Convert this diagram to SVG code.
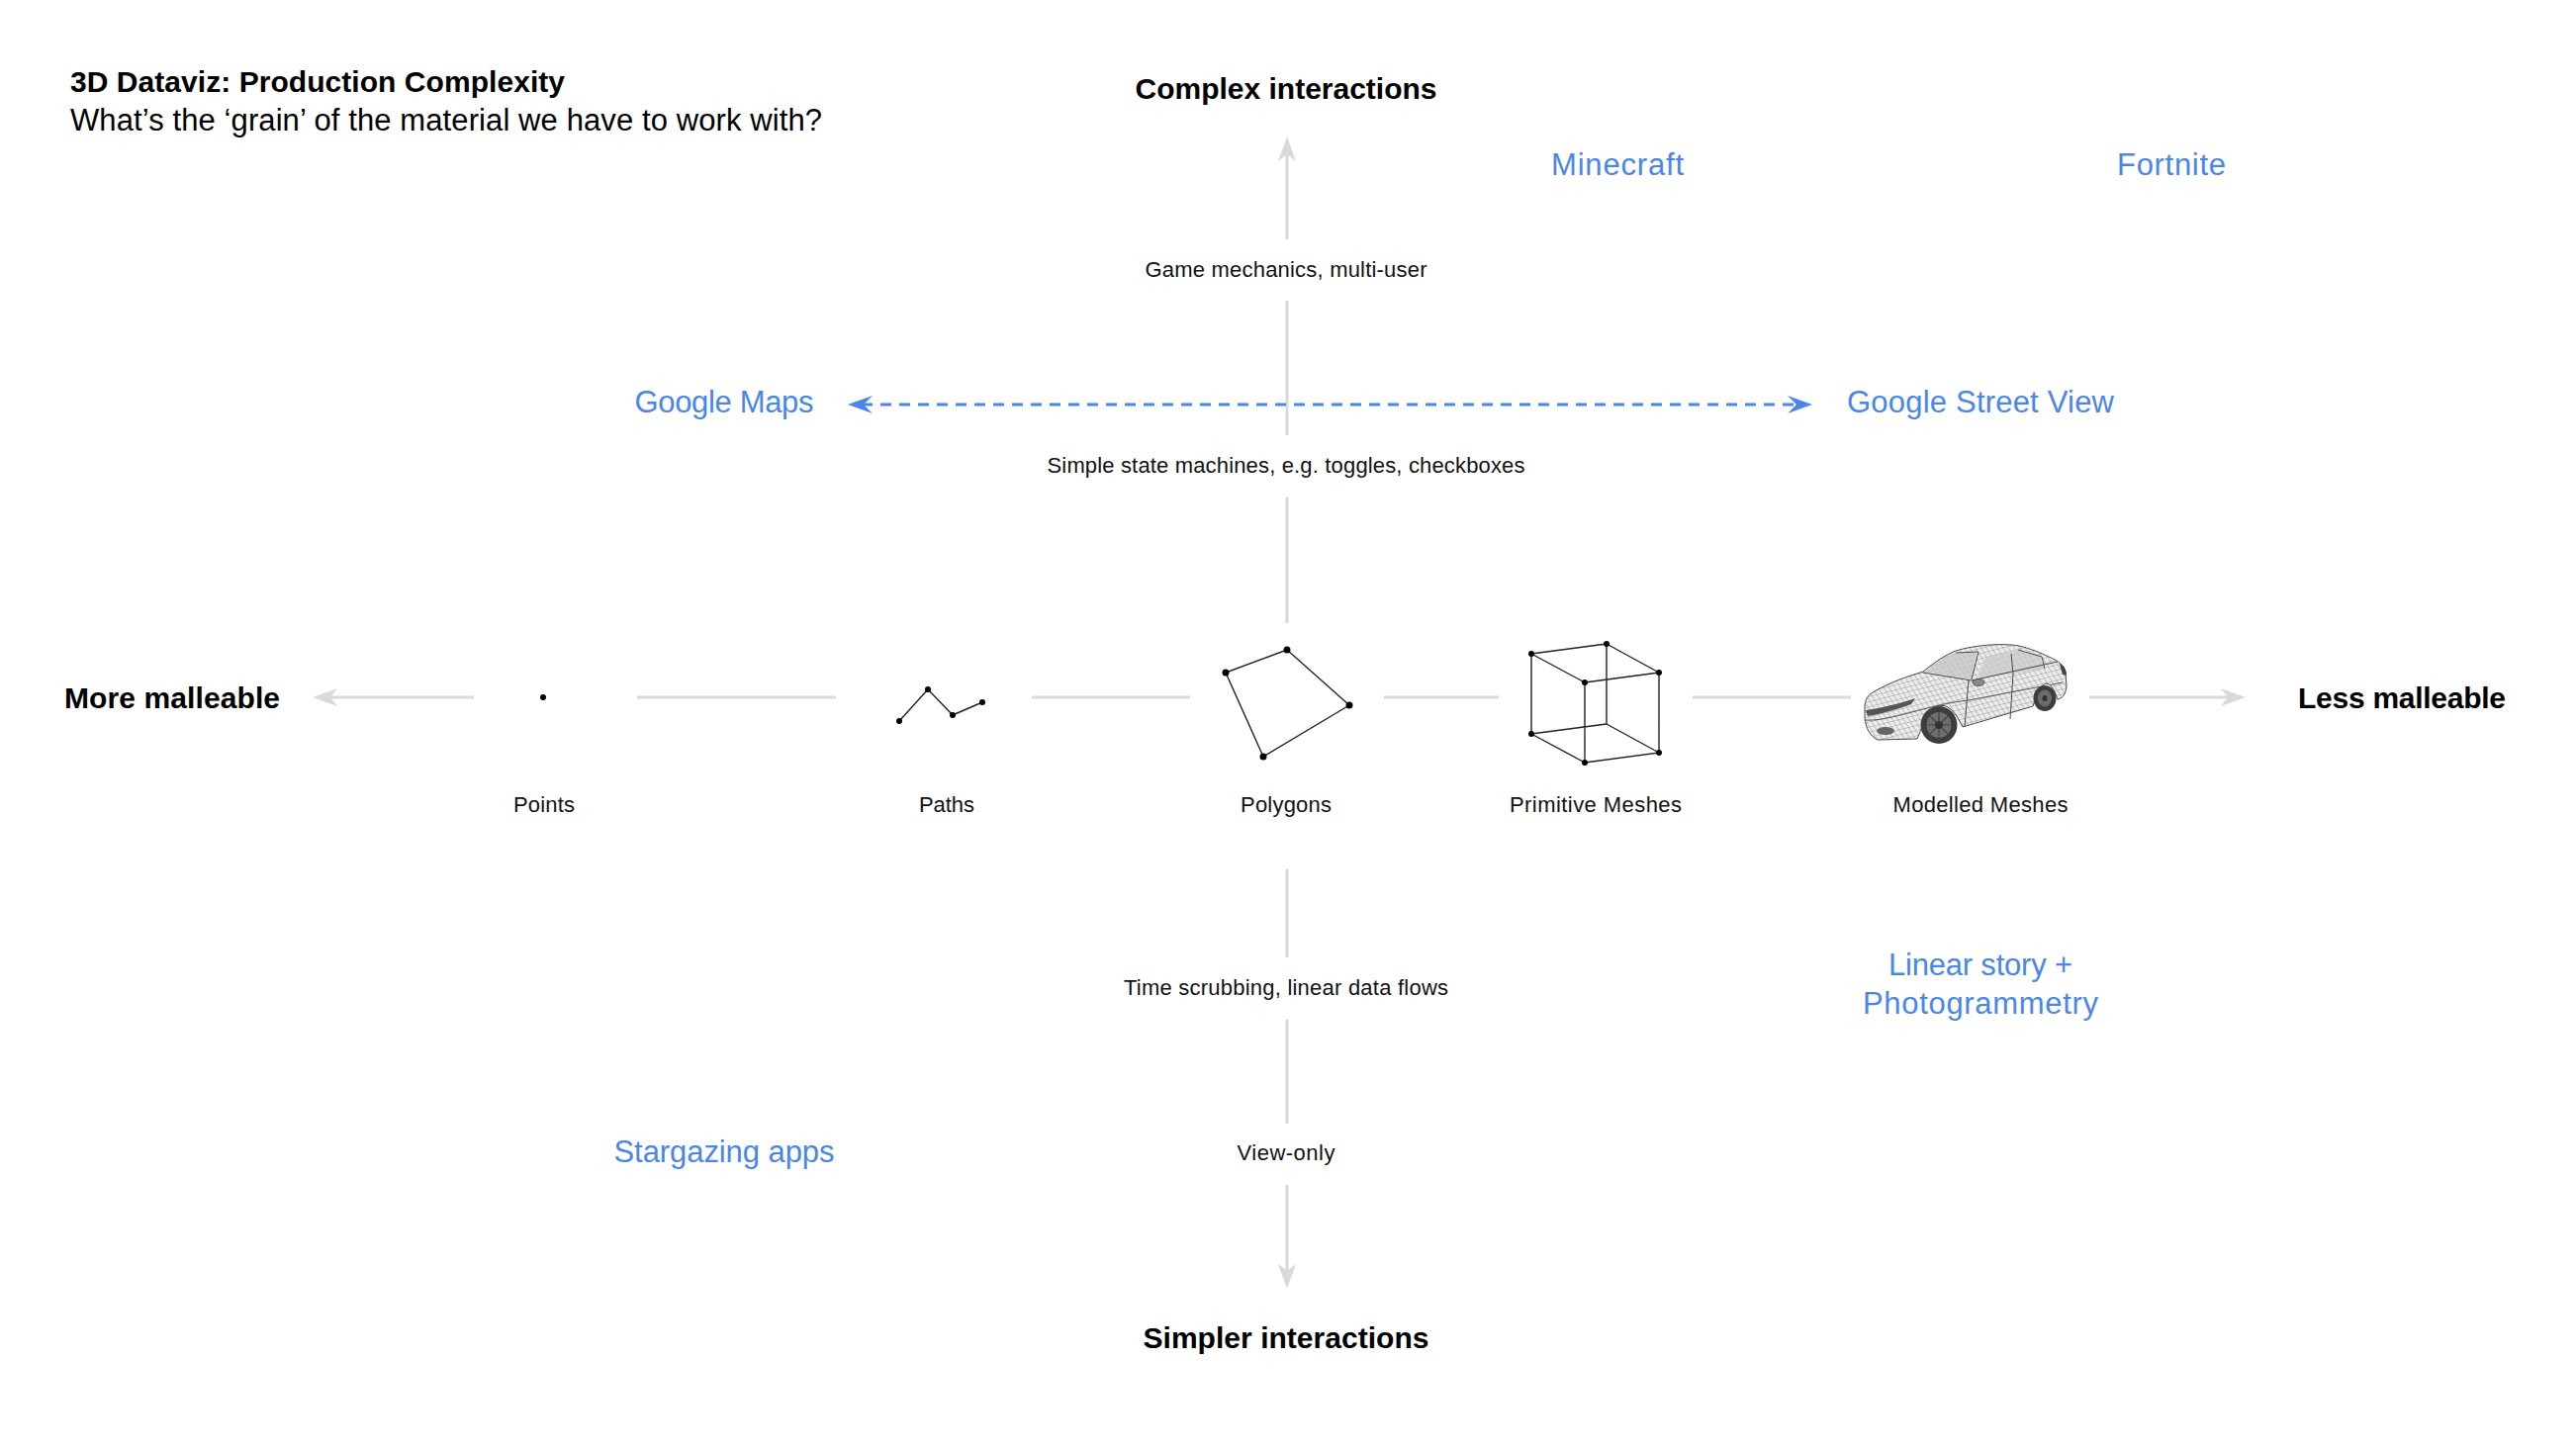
<svg xmlns="http://www.w3.org/2000/svg" width="2604" height="1464" viewBox="0 0 2604 1464">
<style>
  text { font-family: "Liberation Sans", Arial, sans-serif; }
  .title { font-weight: 700; font-size: 30px; fill: #000; }
  .sub { font-size: 31px; fill: #000; }
  .bold { font-weight: 700; font-size: 30px; fill: #000; }
  .lbl { font-size: 22px; fill: #111; }
  .ex { font-size: 31px; fill: #4a86e8; }
  .axis { stroke: #d9d9d9; stroke-width: 3; fill: none; }
  .dash { stroke: #4a86e8; stroke-width: 3.2; fill: none; stroke-dasharray: 11 8; }
  .geo { stroke: #222; stroke-width: 1.4; fill: none; stroke-linejoin: round; }
  .dot { fill: #000; }
  .carline { stroke: #4a4a4a; stroke-width: 1; fill: none; }
</style>
<defs>
  <marker id="ahGrey" viewBox="-26 -10 27 20" refX="-16" refY="0" markerWidth="27" markerHeight="20" markerUnits="userSpaceOnUse" orient="auto">
    <path d="M0,0 L-25,-9 L-18,0 L-25,9 Z" fill="#d9d9d9"/>
  </marker>
  <marker id="ahBlue" viewBox="-26 -10 27 20" refX="-14" refY="0" markerWidth="27" markerHeight="20" markerUnits="userSpaceOnUse" orient="auto-start-reverse">
    <path d="M0,0 L-25,-9 L-16,0 L-25,9 Z" fill="#4a86e8"/>
  </marker>
  <pattern id="mesh" patternUnits="userSpaceOnUse" width="5" height="5" patternTransform="rotate(-14) skewX(18)">
    <path d="M0,0 L5,0 M0,0 L0,5" stroke="#666" stroke-width="0.6" fill="none"/>
  </pattern>
  <path id="carBody" d="M1898,748 C1890,744 1886,736 1885,726 L1885,713 C1886,706 1889,702 1895,699 C1910,690 1928,684 1944,679 C1955,670 1965,663 1977,658 C1996,652 2025,650 2041,653 C2053,656 2063,660 2071,664 C2081,668 2087,673 2088,680 L2089,694 C2088,702 2085,706 2080,707 Q2068,672 2055,714 L1984,735 Q1961,686 1938,747 Z"/>
  <clipPath id="carClip"><use href="#carBody"/></clipPath>
</defs>

<g id="title">
  <text class="title" x="71" y="93" textLength="500">3D Dataviz: Production Complexity</text>
  <text class="sub" x="71" y="132" textLength="760">What’s the ‘grain’ of the material we have to work with?</text>
</g>

<g id="connectors">
  <line class="axis" x1="1301" y1="242" x2="1301" y2="154" marker-end="url(#ahGrey)"/>
  <line class="axis" x1="1301" y1="304" x2="1301" y2="440"/>
  <line class="axis" x1="1301" y1="503" x2="1301" y2="630"/>
  <line class="axis" x1="1301" y1="879" x2="1301" y2="968"/>
  <line class="axis" x1="1301" y1="1031" x2="1301" y2="1136"/>
  <line class="axis" x1="1301" y1="1198" x2="1301" y2="1287" marker-end="url(#ahGrey)"/>
  <line class="axis" x1="479" y1="705" x2="332" y2="705" marker-end="url(#ahGrey)"/>
  <line class="axis" x1="644" y1="705" x2="845" y2="705"/>
  <line class="axis" x1="1043" y1="705" x2="1203" y2="705"/>
  <line class="axis" x1="1399" y1="705" x2="1515" y2="705"/>
  <line class="axis" x1="1711" y1="705" x2="1871" y2="705"/>
  <line class="axis" x1="2112" y1="705" x2="2254" y2="705" marker-end="url(#ahGrey)"/>
  <line class="dash" x1="871" y1="409" x2="1818" y2="409" marker-start="url(#ahBlue)" marker-end="url(#ahBlue)"/>
</g>

<g id="axis-labels">
  <text class="bold" x="1300" y="100" text-anchor="middle" textLength="305">Complex interactions</text>
  <text class="bold" x="1300" y="1363" text-anchor="middle" textLength="289">Simpler interactions</text>
  <text class="bold" x="65" y="716" textLength="218">More malleable</text>
  <text class="bold" x="2323" y="716" textLength="210">Less malleable</text>
  <text class="lbl" x="1300" y="280" text-anchor="middle" textLength="285">Game mechanics, multi-user</text>
  <text class="lbl" x="1300" y="478" text-anchor="middle" textLength="483">Simple state machines, e.g. toggles, checkboxes</text>
  <text class="lbl" x="1300" y="1006" text-anchor="middle" textLength="328">Time scrubbing, linear data flows</text>
  <text class="lbl" x="1300" y="1173" text-anchor="middle" textLength="99">View-only</text>
</g>

<g id="node-points">
  <circle class="dot" cx="549" cy="705" r="3"/>
  <text class="lbl" x="550" y="821" text-anchor="middle" textLength="62">Points</text>
</g>

<g id="node-paths">
  <polyline class="geo" points="909,729 938,697 963,723 993,710"/>
  <circle class="dot" cx="909" cy="729" r="3"/>
  <circle class="dot" cx="938" cy="697" r="3"/>
  <circle class="dot" cx="963" cy="723" r="3"/>
  <circle class="dot" cx="993" cy="710" r="3"/>
  <text class="lbl" x="957" y="821" text-anchor="middle" textLength="56">Paths</text>
</g>

<g id="node-polygons">
  <polygon class="geo" points="1239,680 1301,657 1364,713 1277,765"/>
  <circle class="dot" cx="1239" cy="680" r="3.5"/>
  <circle class="dot" cx="1301" cy="657" r="3.5"/>
  <circle class="dot" cx="1364" cy="713" r="3.5"/>
  <circle class="dot" cx="1277" cy="765" r="3.5"/>
  <text class="lbl" x="1300" y="821" text-anchor="middle" textLength="92">Polygons</text>
</g>

<g id="node-primitive-meshes">
  <path class="geo" d="M1548,661 L1624,651 L1677,680 L1602,690 Z M1548,661 L1548,742 L1602,771 L1677,761 L1677,680 M1602,690 L1602,771 M1624,651 L1624,732 L1548,742 M1624,732 L1677,761"/>
  <circle class="dot" cx="1548" cy="661" r="3"/>
  <circle class="dot" cx="1624" cy="651" r="3"/>
  <circle class="dot" cx="1677" cy="680" r="3"/>
  <circle class="dot" cx="1602" cy="690" r="3"/>
  <circle class="dot" cx="1548" cy="742" r="3"/>
  <circle class="dot" cx="1602" cy="771" r="3"/>
  <circle class="dot" cx="1677" cy="761" r="3"/>
  <text class="lbl" x="1613" y="821" text-anchor="middle" textLength="174">Primitive Meshes</text>
</g>

<g id="node-modelled-meshes">
  <use href="#carBody" fill="#ececec"/>
  <g clip-path="url(#carClip)">
    <rect x="1880" y="645" width="215" height="110" fill="url(#mesh)"/>
    <path d="M1946,679 C1956,670 1966,664 1977,660 L1998,659 L1993,687 Z" fill="#c6c6c6" fill-opacity="0.75"/>
    <path d="M1999,686 L2007,665 L2040,657 L2062,663 L2067,676 L2035,681 Z" fill="#c9c9c9" fill-opacity="0.75"/>
    <path d="M1886,718 C1900,716 1918,712 1936,706 L1932,712 C1915,718 1900,722 1888,724 Z" fill="#555"/>
    <ellipse cx="1906" cy="739" rx="9" ry="4" fill="#666"/>
    <path d="M1885,728 C1910,730 1950,712 1990,708 L2085,690" stroke="#555" stroke-width="1" fill="none"/>
  </g>
  <use href="#carBody" class="carline" stroke="#555" stroke-width="1.3"/>
  <path class="carline" d="M1993,688 L2080,669 M2033,661 L2035,681 L2032,727 M1990,687 L1986,735 M1944,680 L1993,688 M1977,660 L2000,659 L1993,687 M2040,657 L2064,664 L2067,676"/>
  <ellipse cx="2000" cy="690" rx="6" ry="3.5" fill="#8a8a8a" stroke="#444" stroke-width="0.8"/>
  <path d="M2082,671 C2087,673 2089,678 2089,683 L2085,682 Z" fill="#444"/>
  <ellipse cx="2067" cy="706" rx="11.5" ry="13" fill="#3d3d3d"/>
  <ellipse cx="2067" cy="706" rx="7" ry="8.5" fill="#6b6b6b"/>
  <ellipse cx="2067" cy="706" rx="2.5" ry="3" fill="#333"/>
  <ellipse cx="1960" cy="733" rx="18.5" ry="19" fill="#3d3d3d"/>
  <ellipse cx="1960" cy="733" rx="12.5" ry="13" fill="#6e6e6e"/>
  <path d="M1960,720 L1960,746 M1948,733 L1972,733 M1951,724 L1969,742 M1969,724 L1951,742" stroke="#454545" stroke-width="1.2"/>
  <ellipse cx="1960" cy="733" rx="4" ry="4" fill="#333"/>
  <text class="lbl" x="2002" y="821" text-anchor="middle" textLength="177">Modelled Meshes</text>
</g>

<g id="ex-minecraft"><text class="ex" x="1635" y="177" text-anchor="middle" textLength="134">Minecraft</text></g>
<g id="ex-fortnite"><text class="ex" x="2195" y="177" text-anchor="middle" textLength="110">Fortnite</text></g>
<g id="ex-google-maps"><text class="ex" x="732" y="417" text-anchor="middle" textLength="181">Google Maps</text></g>
<g id="ex-google-street-view"><text class="ex" x="2002" y="417" text-anchor="middle" textLength="270">Google Street View</text></g>
<g id="ex-linear-story">
  <text class="ex" x="2002" y="986" text-anchor="middle" textLength="186">Linear story +</text>
  <text class="ex" x="2002" y="1025" text-anchor="middle" textLength="238">Photogrammetry</text>
</g>
<g id="ex-stargazing"><text class="ex" x="732" y="1175" text-anchor="middle" textLength="223">Stargazing apps</text></g>
</svg>
